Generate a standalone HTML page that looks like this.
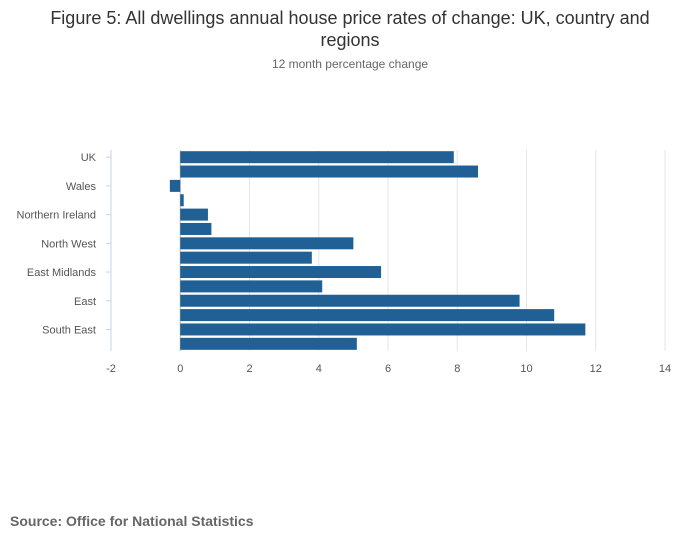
<!DOCTYPE html>
<html><head><meta charset="utf-8">
<style>
body{margin:0;background:#fff;font-family:"Liberation Sans",sans-serif;}
#wrap{position:relative;width:700px;height:549px;overflow:hidden;}
.title{position:absolute;left:0;width:700px;text-align:center;color:#333;}
</style></head>
<body>
<div id="wrap">
<div class="title" style="top:7px;font-size:18px;line-height:22px;">Figure 5: All dwellings annual house price rates of change: UK, country and<br>regions</div>
<div class="title" style="top:57px;font-size:12px;color:#666;">12 month percentage change</div>
<svg id="chart" width="700" height="549" style="position:absolute;left:0;top:0"></svg>
<div style="position:absolute;left:10px;top:513px;font-size:14px;font-weight:bold;color:#666;">Source: Office for National Statistics</div>
</div>
<script>
const categories=["UK","England","Wales","Scotland","Northern Ireland","North East","North West","Yorkshire and The Humber","East Midlands","West Midlands","East","London","South East","South West"];
const values=[7.9,8.6,-0.3,0.1,0.8,0.9,5.0,3.8,5.8,4.1,9.8,10.8,11.7,5.1];
const xTicks=[-2,0,2,4,6,8,10,12,14];
const labelEvery=2;
const NS="http://www.w3.org/2000/svg";
const svg=document.getElementById('chart');
const x0=111,x1=665,xmin=-2,xmax=14;
const yTop=150,yBottom=351;
const xs=v=>x0+(v-xmin)/(xmax-xmin)*(x1-x0);
const band=(yBottom-yTop)/categories.length;
const yc=i=>yTop+band*(i+0.5);
function mk(t,a){const e=document.createElementNS(NS,t);for(const k in a)e.setAttribute(k,a[k]);svg.appendChild(e);return e;}
xTicks.forEach(t=>{
  const g=mk('line',{x1:xs(t),x2:xs(t),y1:yTop,y2:yBottom,stroke:t===0?'#bbb':'#e6e6e6','stroke-width':1});
  
  
  const l=mk('text',{x:xs(t),y:372,'text-anchor':'middle','font-size':11,fill:'#555','font-family':'Liberation Sans, sans-serif'});
  l.textContent=t;
  
  
});
const ax=mk('line',{x1:x0,x2:x0,y1:yTop,y2:yBottom,stroke:'#c8d4e6','stroke-width':1});


categories.forEach((c,i)=>{
  const v=values[i];
  const r=mk('rect',{x:Math.min(xs(0),xs(v)),y:yc(i)-6,width:Math.abs(xs(v)-xs(0)),height:12,fill:'#206095'});
  
  
  if(i%labelEvery===0){
    const tk=mk('line',{x1:x0-5,x2:x0,y1:yc(i),y2:yc(i),stroke:'#c8d4e6'});
    
    
    const l=mk('text',{x:96,y:yc(i)+4,'text-anchor':'end','font-size':11,fill:'#555','font-family':'Liberation Sans, sans-serif'});
    l.textContent=c;
    
    
  }
});
</script>
</body></html>
